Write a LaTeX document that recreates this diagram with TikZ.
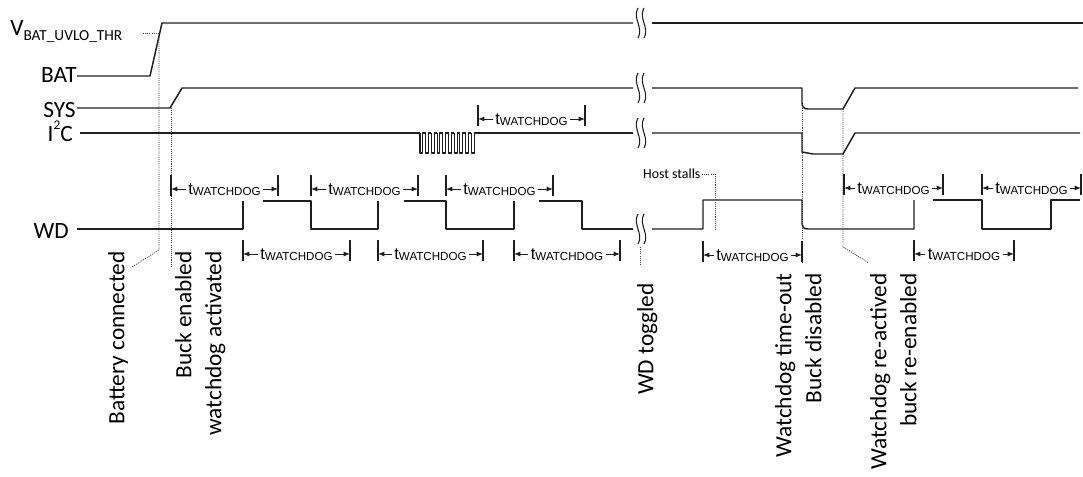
\documentclass[tikz,border=0pt]{standalone}
\usepackage{fontspec}
\setmainfont{Carlito}
\newfontfamily\dimfont{Liberation Sans}
\usetikzlibrary{arrows.meta,positioning}
\definecolor{sigblack}{HTML}{1E1E1E}
\definecolor{dotgray}{HTML}{3C3C3C}

\tikzset{
  signal/.style={sigblack,line width=1.1pt,line join=round},
  brkline/.style={sigblack,line width=0.8pt},
  marker/.style={dotgray,line width=0.6pt,dash pattern=on 0.8pt off 0.8pt},
  dimtick/.style={sigblack,line width=1.1pt},
  dimline/.style={sigblack,line width=0.7pt,{Latex[length=4.8pt,width=3.8pt]}-{Latex[length=4.8pt,width=3.8pt]}},
  dimlabel/.style={anchor=base,fill=white,inner xsep=2pt,inner ysep=1pt,font=\dimfont\fontsize{12.5}{13}\selectfont},
  siglabel/.style={anchor=base east,inner sep=0pt},
  eventlabel/.style={rotate=90,anchor=north east,inner sep=0pt,align=right},
}
\newcommand{\twatch}{t\raisebox{-0.6pt}{\fontsize{8.7}{9}\selectfont WATCHDOG}}
\newcommand{\tdim}[4]{%
  \draw[dimtick] (#2,#4-14) -- (#2,#4+7);
  \draw[dimtick] (#3,#4-14) -- (#3,#4+7);
  \draw[dimline] (#2,#4) -- (#3,#4);
  \node[dimlabel] (#1) at ({(#2+#3)/2},#4+6) {\twatch};}
\newcommand{\sigbreak}[1]{%
  \foreach \bx in {638,644}
    \draw[brkline] (\bx,#1-15) .. controls (\bx-6,#1-5) and (\bx+6,#1+5) .. (\bx,#1+15);}

\begin{document}
\begin{tikzpicture}[x=0.75pt,y=-0.75pt,font=\fontsize{17.5}{22.5}\selectfont,>=Latex]
  \useasboundingbox (0,0) rectangle (1083,477);
  % signal names
  \node[anchor=base west,inner sep=0pt] (vthr) at (10,36) {V\raisebox{-3.7pt}{\fontsize{11.5}{12}\selectfont BAT\_UVLO\_THR}};
  \node[siglabel] (batname) at (77,83) {BAT};
  \node[siglabel] (sysname) at (76,118) {SYS};
  \node[siglabel] (i2cname) at (73,142) {I\raisebox{9.5pt}{\fontsize{10}{11}\selectfont 2}C};
  \node[siglabel] (wdname) at (69,239) {WD};
  % waveforms
  \draw[signal] (77,76) -- (150,76) -- (162,23) -- (633,23);
  \draw[signal] (652,23) -- (1083,23);
  \draw[signal] (77,108) -- (170,108) -- (182,88) -- (633,88);
  \draw[signal] (652,88) -- (802,88) -- (802,103) .. controls (802,107) and (804,109) .. (808,109) -- (843,109) -- (855,88) -- (1078,88);
  \draw[signal] (80,133) -- (420,133);
  \foreach \k in {0,...,9}
    \draw[signal,line width=0.8pt] (420+5.7*\k,133) -- (420+5.7*\k,153) -- (422.85+5.7*\k,153) -- (422.85+5.7*\k,133) -- (425.7+5.7*\k,133);
  \draw[signal] (477,133) -- (633,133);
  \draw[signal] (652,133) -- (802,133) -- (802,152) -- (813,154) -- (843,154) -- (855,133) -- (1080,133);
  \draw[signal] (77,229) -- (243,229) -- (243,201);
  \draw[signal] (263,201) -- (311,201) -- (311,229) -- (378,229) -- (378,201);
  \draw[signal] (404,201) -- (446,201) -- (446,229) -- (514,229) -- (514,201);
  \draw[signal] (539,201) -- (582,201) -- (582,229) -- (633,229);
  \draw[signal] (652,229) -- (703,229) -- (703,200) -- (802,200) -- (802,224) .. controls (802,227) and (804,229) .. (808,229) -- (914,229) -- (914,200);
  \draw[signal] (933,200) -- (982,200) -- (982,229) -- (1051,229) -- (1051,200) -- (1080,200);
  \sigbreak{23}
  \sigbreak{88}
  \sigbreak{133}
  \sigbreak{229}
  % event markers
  \draw[marker] (143,33) -- (158,33);
  \draw[marker] (159,33) -- (159,250) -- (132,267);
  \draw[marker] (171,108) -- (171,267);
  \draw[marker] (640,247) -- (640,266);
  \draw[marker] (802,104) -- (802,262);
  \draw[marker] (843,109) -- (843,247) -- (869,263);
  \node[anchor=east,inner sep=1pt,font=\fontsize{10.4}{12}\selectfont] (stalls) at (702,174) {Host stalls};
  \draw[marker] (stalls.east) -- (715,174) -- (715,230);
  % watchdog intervals
  \tdim{dimi2c}{478}{585}{119}
  \tdim{dimup1}{171}{278}{189}
  \tdim{dimup2}{311}{418}{189}
  \tdim{dimup3}{446}{553}{189}
  \tdim{dimup4}{844}{943}{188}
  \tdim{dimup5}{982}{1081}{188}
  \tdim{dimlo1}{243}{350}{254}
  \tdim{dimlo2}{378}{483}{254}
  \tdim{dimlo3}{514}{620}{254}
  \tdim{dimlo4}{703}{802}{255}
  \tdim{dimlo5}{914}{1014}{254}
  % event texts
  \node[eventlabel] (battext) at (108,251) {Battery connected};
  \node[eventlabel] (bucktext) at (175,251) {Buck enabled\\watchdog activated};
  \node[eventlabel] (wdtext) at (637,283) {WD toggled};
  \node[eventlabel] (timeouttext) at (775,273) {Watchdog time-out\\Buck disabled};
  \node[eventlabel] (retext) at (870,273) {Watchdog re-actived\\buck re-enabled};
\end{tikzpicture}
\end{document}
